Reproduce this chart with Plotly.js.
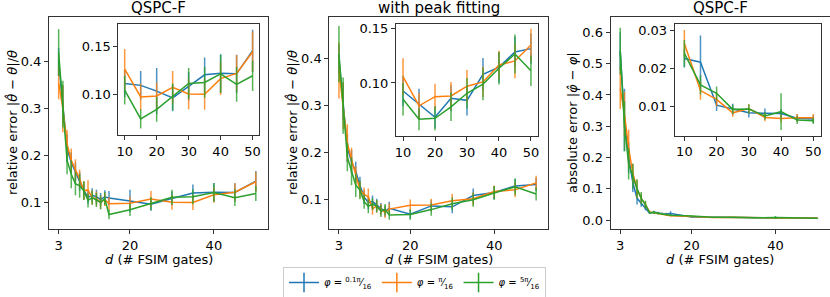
<!DOCTYPE html>
<html>
<head>
<meta charset="utf-8">
<script src="https://cdn.plot.ly/plotly-3.0.1.min.js"></script>
<style>html,body{margin:0;padding:0;background:#fff;}#chart{width:830px;height:297px;}</style>
</head>
<body>
<div id="chart"></div>
<script>
// ---- data ----
const d = [3,4,5,6,7,8,9,10,11,12,13,14,15,20,25,30,35,40,45,50];
const insetD = [10,15,20,25,30,35,40,45,50];
const seriesNames = ["<i>φ</i> = <sup>0.1π</sup>⁄<sub>16</sub>", "<i>φ</i> = <sup>π</sup>⁄<sub>16</sub>", "<i>φ</i> = <sup>5π</sup>⁄<sub>16</sub>"];
const colors = ["#1f77b4", "#ff7f0e", "#2ca02c"];
const barColors = ["rgba(31,119,180,0.8)", "rgba(255,127,14,0.8)", "rgba(44,160,44,0.8)"];

// panel 1: QSPC-F relative error
const blue1 = [0.400,0.310,0.215,0.185,0.165,0.145,0.125,0.111,0.115,0.112,0.106,0.112,0.109,0.103,0.096,0.108,0.120,0.1215,0.121,0.145];
const blueErr1 = [0.03,0.04,0.03,0.022,0.02,0.02,0.018,0.014,0.015,0.015,0.014,0.014,0.015,0.024,0.014,0.015,0.018,0.02,0.02,0.022];
const orange1 = [0.355,0.300,0.225,0.190,0.170,0.150,0.125,0.126,0.110,0.108,0.100,0.106,0.097,0.098,0.107,0.100,0.0997,0.116,0.1215,0.144];
const orangeErr1 = [0.035,0.05,0.03,0.025,0.022,0.02,0.02,0.021,0.015,0.015,0.014,0.014,0.014,0.014,0.017,0.016,0.016,0.017,0.019,0.021];
const green1 = [0.420,0.310,0.190,0.160,0.140,0.135,0.125,0.104,0.110,0.105,0.100,0.108,0.074,0.084,0.097,0.111,0.112,0.121,0.110,0.119];
const greenErr1 = [0.05,0.05,0.03,0.03,0.025,0.025,0.02,0.015,0.015,0.015,0.015,0.014,0.01,0.013,0.014,0.016,0.016,0.02,0.018,0.016];

// panel 2: with peak fitting, relative error
const blue2 = [0.400,0.310,0.210,0.180,0.160,0.130,0.105,0.0926,0.095,0.088,0.080,0.075,0.0807,0.0684,0.0859,0.084,0.108,0.1145,0.1286,0.1316];
const blueErr2 = [0.03,0.04,0.03,0.025,0.02,0.018,0.015,0.014,0.013,0.013,0.012,0.012,0.014,0.01,0.012,0.014,0.015,0.014,0.014,0.014];
const orange2 = [0.375,0.300,0.220,0.185,0.150,0.120,0.110,0.1058,0.080,0.085,0.078,0.072,0.079,0.0874,0.088,0.097,0.101,0.1166,0.1203,0.135];
const orangeErr2 = [0.06,0.05,0.04,0.025,0.02,0.018,0.015,0.017,0.013,0.013,0.012,0.012,0.012,0.012,0.013,0.015,0.014,0.013,0.016,0.015];
const green2 = [0.410,0.300,0.190,0.160,0.130,0.120,0.095,0.085,0.090,0.085,0.075,0.078,0.0666,0.0675,0.078,0.0905,0.099,0.1135,0.1267,0.1113];
const greenErr2 = [0.06,0.06,0.03,0.03,0.025,0.02,0.015,0.015,0.013,0.013,0.013,0.012,0.01,0.011,0.013,0.014,0.015,0.015,0.018,0.014];

// panel 3: QSPC-F absolute error of phi
const blue3 = [0.540,0.320,0.200,0.120,0.070,0.055,0.040,0.0226,0.026,0.023,0.021,0.020,0.0216,0.0104,0.0093,0.0084,0.0083,0.0082,0.0070,0.0068];
const blueErr3 = [0.06,0.10,0.05,0.03,0.02,0.012,0.008,0.0024,0.004,0.004,0.004,0.004,0.007,0.0015,0.0015,0.0012,0.0012,0.0012,0.001,0.001];
const orange3 = [0.420,0.340,0.230,0.150,0.100,0.070,0.050,0.0265,0.024,0.022,0.020,0.018,0.0142,0.0119,0.0084,0.0095,0.0072,0.0069,0.0071,0.0071];
const orangeErr3 = [0.065,0.07,0.06,0.03,0.03,0.015,0.01,0.0035,0.004,0.003,0.003,0.003,0.0024,0.0018,0.001,0.0012,0.001,0.001,0.001,0.001];
const green3 = [0.540,0.300,0.180,0.140,0.100,0.070,0.050,0.0239,0.025,0.022,0.020,0.018,0.0157,0.0135,0.0093,0.0094,0.0076,0.0087,0.0065,0.0063];
const greenErr3 = [0.075,0.08,0.05,0.04,0.03,0.02,0.012,0.0035,0.004,0.004,0.003,0.003,0.0025,0.0018,0.0012,0.0012,0.001,0.0048,0.001,0.0008];

const panels = [
  {vals:[blue1,orange1,green1], errs:[blueErr1,orangeErr1,greenErr1]},
  {vals:[blue2,orange2,green2], errs:[blueErr2,orangeErr2,greenErr2]},
  {vals:[blue3,orange3,green3], errs:[blueErr3,orangeErr3,greenErr3]}
];

// ---- traces ----
const traces = [];
function pick(arr){ return d.map((x,i)=>[x,arr[i]]).filter(p=>insetD.includes(p[0])); }
panels.forEach((p, pi) => {
  const n1 = pi*2+1, n2 = pi*2+2;
  const mainX = 'x' + (n1 === 1 ? '' : n1);
  const mainY = 'y' + (n1 === 1 ? '' : n1);
  const insX = 'x' + n2;
  const insY = 'y' + n2;
  for (let s=0; s<3; s++) {
    traces.push({
      x: d, y: p.vals[s], xaxis: mainX, yaxis: mainY, type:'scatter', mode:'lines',
      line:{color:colors[s], width:1.5}, showlegend:false, hoverinfo:'skip',
      error_y:{type:'data', array:p.errs[s], color:barColors[s], thickness:1.5, width:0}
    });
    const pv = pick(p.vals[s]), pe = pick(p.errs[s]);
    traces.push({
      x: pv.map(q=>q[0]), y: pv.map(q=>q[1]), xaxis: insX, yaxis: insY, type:'scatter', mode:'lines',
      line:{color:colors[s], width:1.5}, showlegend:false, hoverinfo:'skip',
      error_y:{type:'data', array:pe.map(q=>q[1]), color:barColors[s], thickness:1.5, width:0}
    });
  }
});
// legend entries (errorbar-style glyphs)
for (let s=0; s<3; s++) {
  traces.push({
    x:[null], y:[null], xaxis:'x3', yaxis:'y3', type:'scatter', mode:'lines+markers',
    name: seriesNames[s], line:{color:colors[s], width:1.5},
    marker:{symbol:'line-ns-open', size:14, color:colors[s], line:{color:colors[s], width:1.5}},
    showlegend:true
  });
}

// ---- layout ----
const W = 830, H = 297;
const px = v => v / W;
const py = v => 1 - v / H;
const font = {family:'DejaVu Sans, sans-serif', size:13, color:'#000'};
function axBase(extra){
  return Object.assign({
    showgrid:false, zeroline:false, showline:true, mirror:true, linecolor:'#333', linewidth:1,
    ticks:'outside', ticklen:4, tickwidth:1, tickcolor:'#333', tickfont:font, fixedrange:true
  }, extra);
}
const mainXRange = [0.7, 52.9];
const mains = [[49, 268], [329.3, 548.3], [610.6, 829.6]];
const insets = [[118.3, 259], [396, 538.3], [674.7, 820.7]];
const insetY = [[135, 24.3], [136, 24.3], [135.7, 24.3]];
const layout = {
  width: W, height: H, margin:{l:0,r:0,t:0,b:0, autoexpand:false}, paper_bgcolor:'#fff', plot_bgcolor:'#fff',
  font: font, showlegend:true,
  legend:{orientation:'h', x:px(414.5), xanchor:'center', y:py(267), yanchor:'top',
          bordercolor:'#cccccc', borderwidth:1, bgcolor:'#fff',
          font:{family:'DejaVu Sans, sans-serif', size:10, color:'#000'},
          itemwidth:30, tracegroupgap:0},
  xaxis: axBase({domain:[px(mains[0][0]), px(mains[0][1])], range:mainXRange, tickvals:[3,20,40], anchor:'y'}),
  yaxis: axBase({domain:[py(229), py(17)], range:[0.043, 0.496], tickvals:[0.1,0.2,0.3,0.4], tickformat:'.1f', anchor:'x'}),
  xaxis2: axBase({domain:[px(insets[0][0]), px(insets[0][1])], range:[8,52], tickvals:[10,20,30,40,50], anchor:'y2'}),
  yaxis2: axBase({domain:[py(insetY[0][0]), py(insetY[0][1])], range:[0.0573, 0.1726], tickvals:[0.10,0.15], tickformat:'.2f', anchor:'x2'}),
  xaxis3: axBase({domain:[px(mains[1][0]), px(mains[1][1])], range:mainXRange, tickvals:[3,20,40], anchor:'y3'}),
  yaxis3: axBase({domain:[py(229), py(17)], range:[0.0366, 0.489], tickvals:[0.1,0.2,0.3,0.4], tickformat:'.1f', anchor:'x3'}),
  xaxis4: axBase({domain:[px(insets[1][0]), px(insets[1][1])], range:[7.8,52.3], tickvals:[10,20,30,40,50], anchor:'y4'}),
  yaxis4: axBase({domain:[py(insetY[1][0]), py(insetY[1][1])], range:[0.0512, 0.154], tickvals:[0.10,0.15], tickformat:'.2f', anchor:'x4'}),
  xaxis5: axBase({domain:[px(mains[2][0]), px(mains[2][1])], range:mainXRange, tickvals:[3,20,40], anchor:'y5'}),
  yaxis5: axBase({domain:[py(229), py(17)], range:[-0.028, 0.649], tickvals:[0,0.1,0.2,0.3,0.4,0.5,0.6], tickformat:'.1f', anchor:'x5'}),
  xaxis6: axBase({domain:[px(insets[2][0]), px(insets[2][1])], range:[7.0,52.3], tickvals:[10,20,30,40,50], anchor:'y6'}),
  yaxis6: axBase({domain:[py(insetY[2][0]), py(insetY[2][1])], range:[0.00243, 0.0315], tickvals:[0.01,0.02,0.03], tickformat:'.2f', anchor:'x6'}),
  annotations: []
};
const titles = ["QSPC-F", "with peak fitting", "QSPC-F"];
const ytitles = ["relative error |<i>θ̂</i> − <i>θ</i>|/<i>θ</i>", "relative error |<i>θ̂</i> − <i>θ</i>|/<i>θ</i>", "absolute error |<i>φ̂</i> − <i>φ</i>|"];
const ytitleX = [12, 292, 572];
mains.forEach((m, i) => {
  const cx = (m[0] + m[1]) / 2;
  layout.annotations.push({text:titles[i], xref:'paper', yref:'paper', x:px(cx), y:py(8), xanchor:'center', yanchor:'middle', showarrow:false, font:{family:'DejaVu Sans, sans-serif', size:15, color:'#000'}});
  layout.annotations.push({text:'<i>d</i> (# FSIM gates)', xref:'paper', yref:'paper', x:px(cx), y:py(259), xanchor:'center', yanchor:'middle', showarrow:false, font:font});
  layout.annotations.push({text:ytitles[i], xref:'paper', yref:'paper', x:px(ytitleX[i]), y:py(123), xanchor:'center', yanchor:'middle', textangle:-90, showarrow:false, font:font});
});

Plotly.newPlot('chart', traces, layout, {staticPlot:true, displayModeBar:false});
</script>
</body>
</html>
